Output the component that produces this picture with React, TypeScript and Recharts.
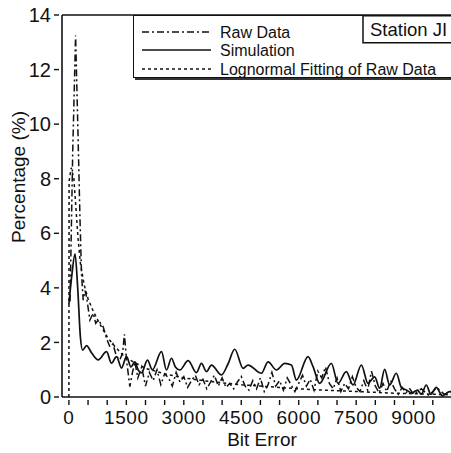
import React from 'react';
import { LineChart, Line, XAxis, YAxis, ReferenceLine, Label } from 'recharts';

const rawData: [number, number][] = [
  [30, 3.5], [100, 9.0], [175, 13.25], [240, 9.5], [290, 6.5], [330, 4.5], [373, 3.55], [420, 3.9],
  [461, 3.67], [548, 2.82], [635, 3.07], [700, 2.7], [765, 2.82], [896, 2.57], [983, 2.15], [1070, 1.84],
  [1150, 1.95], [1243, 1.48], [1330, 1.36], [1400, 1.6], [1450, 2.3], [1504, 1.36], [1591, 0.38],
  [1660, 0.9], [1722, 1.29], [1800, 0.7], [1900, 1.1], [2000, 0.4], [2100, 0.9], [2200, 0.6], [2300, 1.0],
  [2400, 0.45], [2500, 0.85], [2600, 0.7], [2700, 0.4], [2800, 0.9], [2900, 0.55], [3000, 0.75],
  [3100, 0.35], [3200, 0.6], [3300, 0.8], [3400, 0.45], [3500, 0.65], [3600, 0.3], [3700, 0.55],
  [3800, 0.8], [3900, 0.4], [4000, 0.7], [4100, 0.35], [4200, 0.5], [4300, 0.3], [4400, 0.55],
  [4500, 0.75], [4600, 0.4], [4700, 0.25], [4800, 0.6], [4900, 0.3], [5000, 0.7], [5100, 0.2],
  [5200, 0.45], [5300, 0.9], [5400, 0.4], [5500, 0.6], [5600, 0.25], [5700, 0.7], [5800, 0.45],
  [5900, 0.2], [6000, 0.5], [6100, 0.8], [6200, 0.4], [6300, 0.65], [6400, 0.25], [6500, 0.95],
  [6600, 0.7], [6700, 1.1], [6800, 0.5], [6900, 0.3], [7000, 0.7], [7100, 0.2], [7200, 0.5],
  [7300, 0.3], [7400, 0.75], [7500, 0.35], [7600, 0.2], [7700, 0.6], [7800, 0.25], [7900, 0.95],
  [8000, 0.4], [8100, 0.15], [8200, 0.5], [8300, 0.2], [8400, 0.6], [8500, 0.3], [8600, 0.1],
  [8700, 0.35], [8800, 0.15], [8900, 0.3], [9000, 0.1], [9200, 0.3], [9400, 0.05], [9600, 0.35],
  [9800, 0.1], [10000, 0.2],
];

const simData: [number, number][] = [
  [0, 3.4], [80, 4.5], [160, 5.25], [230, 4.0], [300, 2.2], [357, 1.72], [461, 1.88], [600, 1.6],
  [765, 1.36], [983, 1.66], [1113, 1.24], [1243, 1.48], [1374, 1.06], [1504, 1.48], [1620, 1.1],
  [1722, 1.29], [1809, 0.99], [1896, 0.88], [2050, 1.35], [2180, 1.0], [2417, 1.66], [2548, 0.99],
  [2678, 1.42], [2780, 1.1], [2896, 0.99], [3113, 1.33], [3330, 0.89], [3461, 1.23], [3591, 0.93],
  [3722, 1.17], [3983, 0.81], [4150, 1.2], [4330, 1.75], [4548, 1.05], [4678, 1.17], [5026, 0.87],
  [5200, 1.29], [5417, 0.99], [5635, 1.23], [5809, 1.17], [5939, 0.62], [6243, 1.48], [6374, 1.11],
  [6548, 0.5], [6852, 1.23], [7026, 0.5], [7243, 0.93], [7417, 0.44], [7635, 1.17], [7809, 0.5],
  [7983, 0.74], [8113, 0.32], [8243, 1.01], [8374, 0.44], [8548, 0.87], [8680, 0.35], [8809, 0.26],
  [8950, 0.15], [9100, 0.25], [9200, 0.1], [9330, 0.44], [9450, 0.1], [9591, 0.35], [9750, 0.05],
  [9939, 0.2], [10080, 0.2],
];

const lognormalData: [number, number][] = [
  [0, 0], [5, 7.9], [60, 8.4], [130, 8.0], [180, 7.0], [240, 5.8], [300, 4.9], [400, 4.1], [500, 3.6],
  [650, 3.1], [800, 2.7], [1000, 2.2], [1200, 1.85], [1400, 1.55], [1600, 1.35], [1800, 1.2],
  [2000, 1.05], [2500, 0.85], [3000, 0.7], [3500, 0.6], [4000, 0.52], [4500, 0.45], [5000, 0.4],
  [5500, 0.35], [6000, 0.3], [6500, 0.26], [7000, 0.23], [7500, 0.2], [8000, 0.17], [8500, 0.14],
  [9000, 0.12], [9500, 0.1], [10000, 0.08],
];

const seriesNames = ['Raw Data', 'Simulation', 'Lognormal Fitting of Raw Data'];
const seriesDash = ['7 3 2 3', '', '3 3'];
const xTicks = [0, 500, 1000, 1500, 2000, 2500, 3000, 3500, 4000, 4500, 5000, 5500, 6000, 6500, 7000, 7500, 8000, 8500, 9000, 9500, 10000];
const xLabelStep = 1500;
const yTicks = [0, 2, 4, 6, 8, 10, 12, 14];
const stationLabel = 'Station JI';
const xTitle = 'Bit Error';
const yTitle = 'Percentage (%)';

const toPoints = (d: [number, number][]) => d.map(([x, y]) => ({ x, y }));

const FONT = '"Liberation Sans", Arial, sans-serif';
const INK = '#111';

const XTick = (props: any) => {
  const { x, y, payload } = props;
  const v = payload.value;
  return (
    <g>
      <line x1={x} y1={y} x2={x} y2={y - 5} stroke={INK} strokeWidth={1.4} />
      {v % xLabelStep === 0 && v <= 9000 ? (
        <text x={x} y={y + 19} textAnchor="middle" fontFamily={FONT} fontSize={19} letterSpacing={0.6} fill={INK}>
          {v}
        </text>
      ) : null}
    </g>
  );
};

const YTick = (props: any) => {
  const { x, y, payload } = props;
  return (
    <g>
      <line x1={x} y1={y} x2={x + 5} y2={y} stroke={INK} strokeWidth={1.4} />
      <text x={x - 3} y={y} dy="0.36em" textAnchor="end" fontFamily={FONT} fontSize={20} fill={INK}>
        {payload.value}
      </text>
    </g>
  );
};

const LegendBox = () => (
  <div style={{ position: 'absolute', left: 133, top: 15, width: 330, height: 66, fontFamily: FONT }}>
    <div style={{ position: 'absolute', left: 2, top: 2, width: 330, height: 63, background: '#333' }} />
    <div style={{ position: 'absolute', left: 0, top: 0, width: 330, height: 63, background: '#fff', border: `1.5px solid ${INK}`, boxSizing: 'border-box' }} />
    <svg style={{ position: 'absolute', left: 0, top: 0, overflow: 'visible' }} width={330} height={66}>
      {seriesNames.map((n, i) => {
        const cy = [17, 35, 54][i];
        return (
          <g key={n}>
            <line x1={9} x2={78} y1={cy} y2={cy} stroke={INK} strokeWidth={1.4} strokeDasharray={seriesDash[i] || undefined} />
            <text x={87} y={cy} dy="0.36em" fontSize={16} fill={INK} fontFamily={FONT}>{n}</text>
          </g>
        );
      })}
      <rect x={230} y={0.75} width={110} height={27} fill="#fff" stroke={INK} strokeWidth={1.5} />
      <text x={237} y={21} fontSize={18.5} fill={INK} fontFamily={FONT}>{stationLabel}</text>
    </svg>
  </div>
);

export default function App() {
  return (
    <div style={{ position: 'absolute', left: 0, top: 0, width: 451, height: 453, overflow: 'hidden', background: '#fff' }}>
      <LineChart width={460} height={453} margin={{ top: 15, right: 5, bottom: 0, left: 2 }}>
        <XAxis
          dataKey="x"
          type="number"
          domain={[-180, 10080]}
          ticks={xTicks}
          interval={0}
          allowDataOverflow
          tick={<XTick />}
          tickLine={false}
          axisLine={{ stroke: INK, strokeWidth: 1.6 }}
          height={56}
        >
          <Label
            content={() => (
              <text x={262} y={446} textAnchor="middle" fontFamily={FONT} fontSize={19} fill={INK}>{xTitle}</text>
            )}
          />
        </XAxis>
        <YAxis
          dataKey="y"
          type="number"
          domain={[0, 14]}
          ticks={yTicks}
          interval={0}
          allowDataOverflow
          tick={<YTick />}
          tickLine={false}
          width={60}
          axisLine={{ stroke: INK, strokeWidth: 1.6 }}
        >
          <Label
            content={() => (
              <text x={25} y={177} transform="rotate(-90 25 177)" textAnchor="middle" fontFamily={FONT} fontSize={19} fill={INK}>{yTitle}</text>
            )}
          />
        </YAxis>
        <ReferenceLine y={14} stroke={INK} strokeWidth={1.6} />
        <Line data={toPoints(rawData)} dataKey="y" name={seriesNames[0]} stroke={INK} strokeWidth={1.5} strokeDasharray={seriesDash[0]} dot={false} isAnimationActive={false} />
        <Line type="monotone" data={toPoints(simData)} dataKey="y" name={seriesNames[1]} stroke={INK} strokeWidth={1.7} dot={false} isAnimationActive={false} />
        <Line data={toPoints(lognormalData)} dataKey="y" name={seriesNames[2]} stroke={INK} strokeWidth={1.5} strokeDasharray={seriesDash[2]} dot={false} isAnimationActive={false} />
      </LineChart>
      <LegendBox />
    </div>
  );
}
